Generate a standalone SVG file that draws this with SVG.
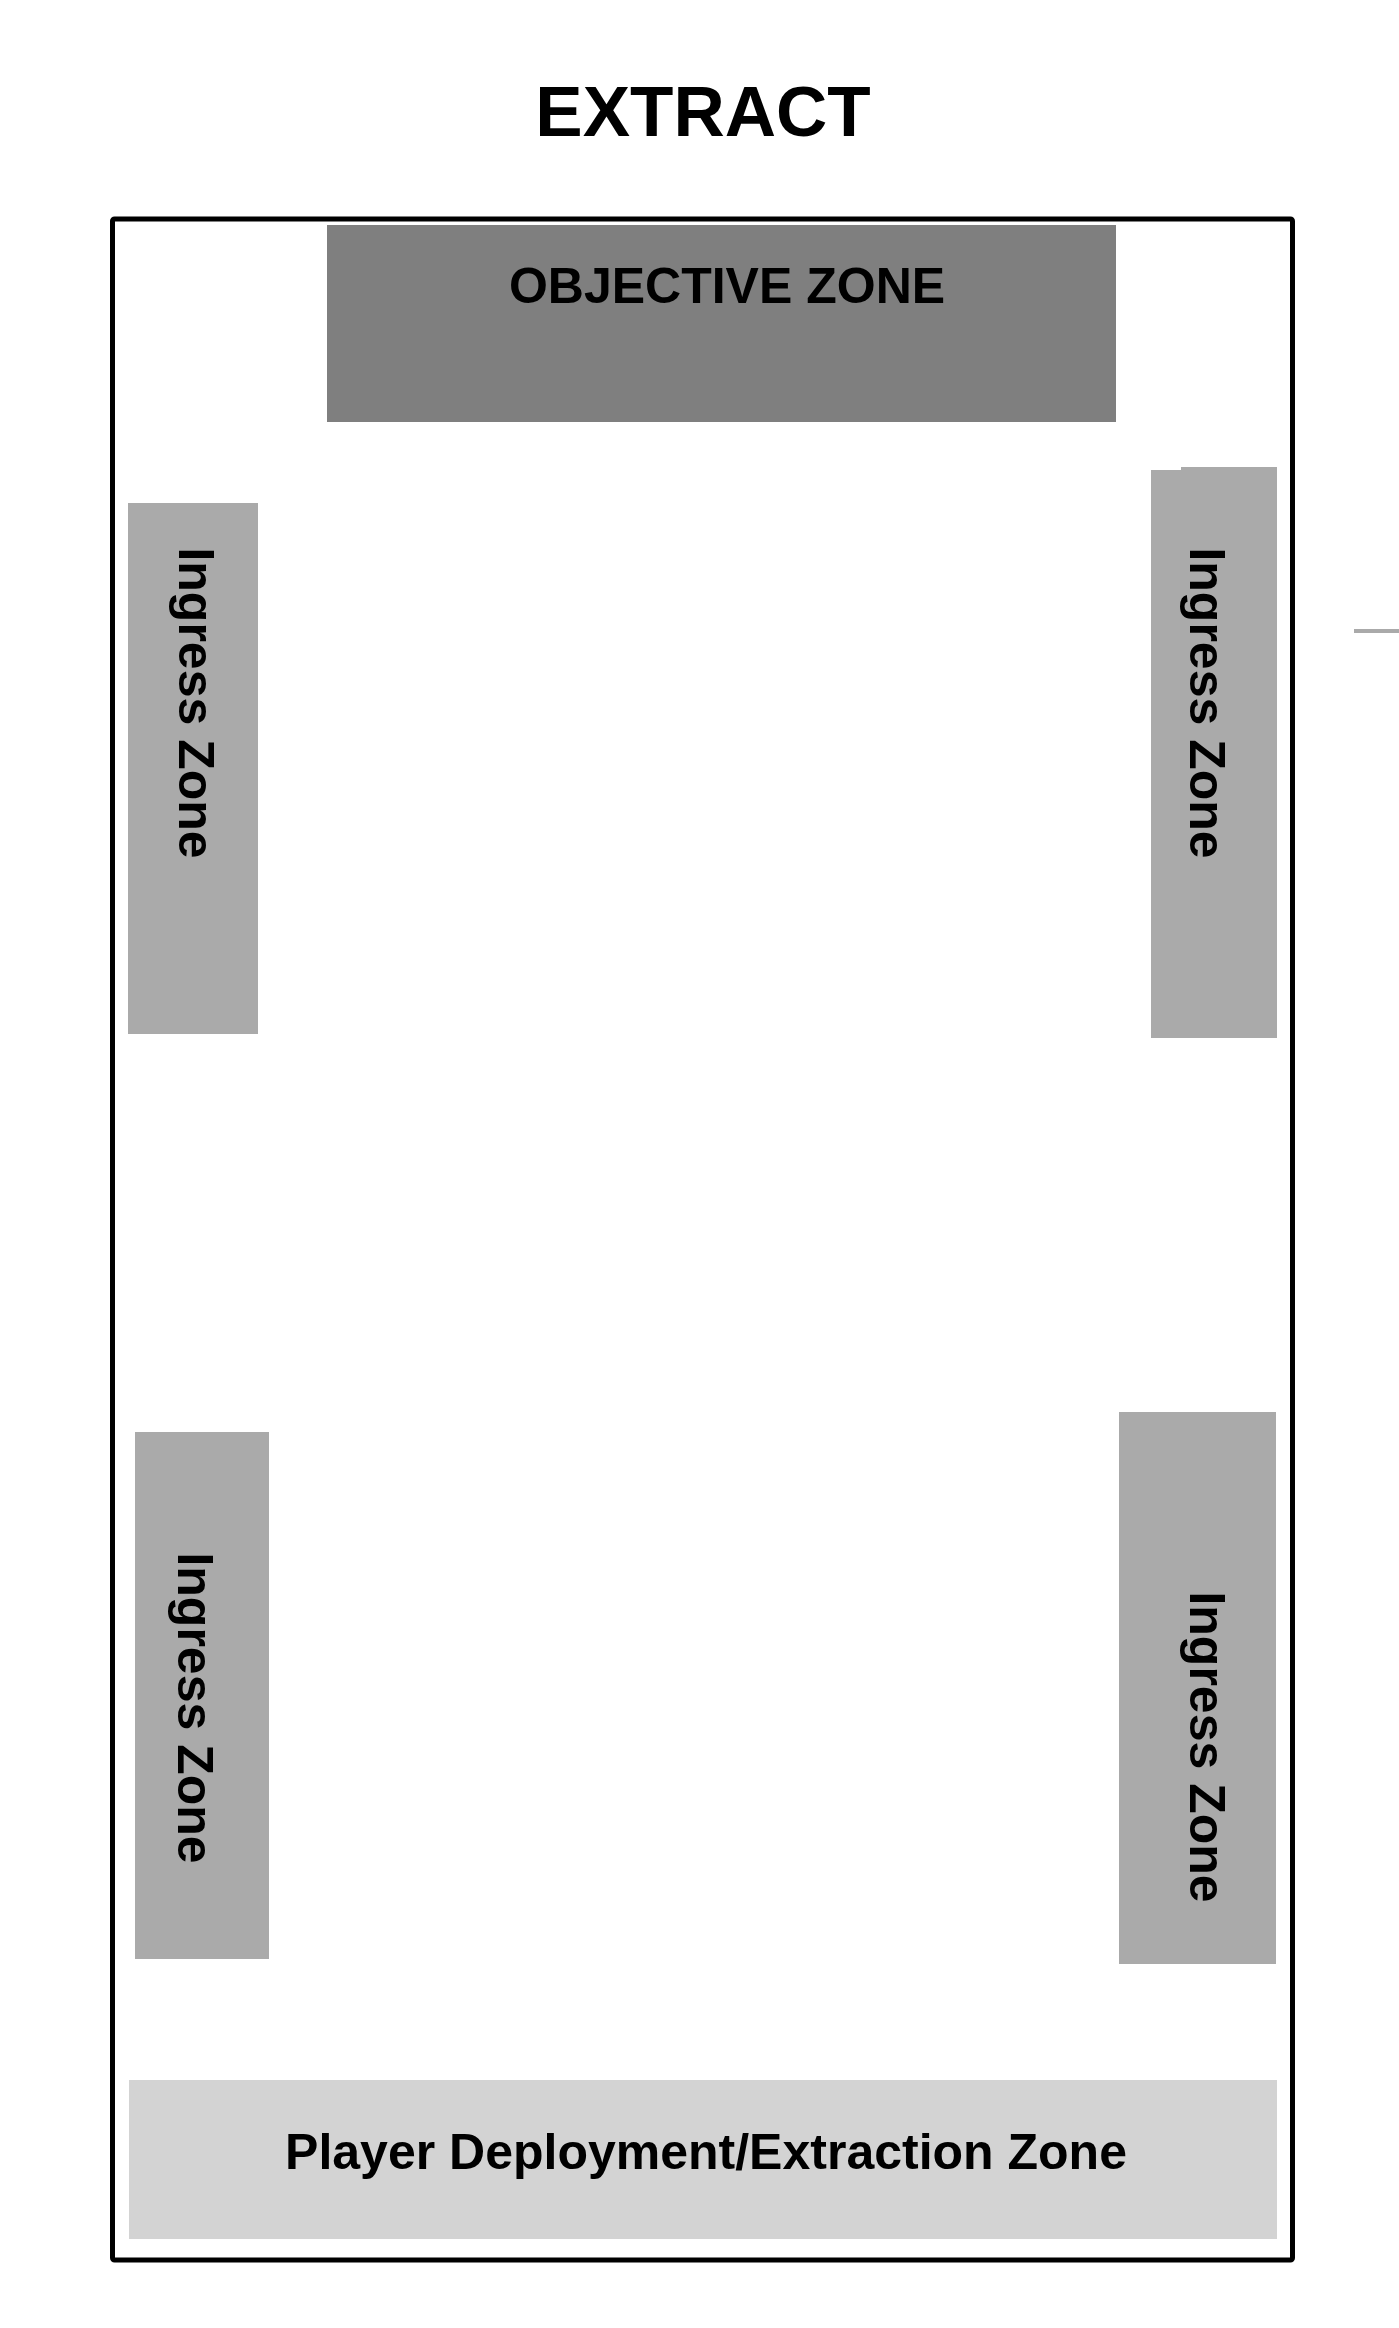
<svg xmlns="http://www.w3.org/2000/svg" width="1399" height="2328" viewBox="0 0 1399 2328">
<style>
text{font-family:"Liberation Sans",Arial,Helvetica,sans-serif;font-weight:bold;fill:#000}
.lbl{font-size:50px;text-anchor:middle}
.ing{fill:#aaaaaa}
</style>
<rect x="0" y="0" width="1399" height="2328" fill="#ffffff"/>
<g id="title"><text x="703" y="136" style="font-size:71px;text-anchor:middle">EXTRACT</text></g>
<g id="frame"><rect x="112.5" y="219" width="1180" height="2041" rx="2" fill="none" stroke="#000" stroke-width="5"/></g>
<g id="objective-zone">
<rect x="327" y="225" width="789" height="197" fill="#7f7f7f"/>
<text class="lbl" x="727" y="303">OBJECTIVE ZONE</text>
</g>
<g id="ingress-top-left">
<rect class="ing" x="128" y="503" width="130" height="531"/>
<text class="lbl" transform="translate(179,703) rotate(90)">Ingress Zone</text>
</g>
<g id="ingress-top-right">
<rect class="ing" x="1151" y="470" width="126" height="568"/>
<rect class="ing" x="1181" y="467" width="96" height="10"/>
<text class="lbl" transform="translate(1190,703) rotate(90)">Ingress Zone</text>
</g>
<g id="ingress-bottom-left">
<rect class="ing" x="135" y="1432" width="134" height="527"/>
<text class="lbl" transform="translate(178,1708) rotate(90)">Ingress Zone</text>
</g>
<g id="ingress-bottom-right">
<rect class="ing" x="1119" y="1412" width="157" height="552"/>
<text class="lbl" transform="translate(1190,1747) rotate(90)">Ingress Zone</text>
</g>
<g id="deployment-zone">
<rect x="129" y="2080" width="1148" height="159" fill="#d3d3d3"/>
<text class="lbl" x="706" y="2169">Player Deployment/Extraction Zone</text>
</g>
<g id="connectors">
<rect x="1354" y="629" width="45" height="4" fill="#aaaaaa"/>
</g>
</svg>
